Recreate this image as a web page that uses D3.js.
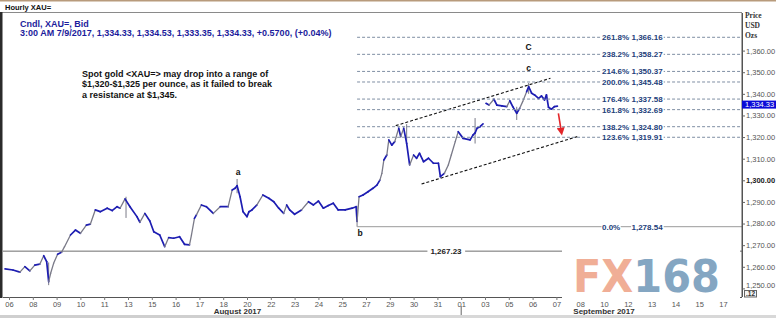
<!DOCTYPE html>
<html><head><meta charset="utf-8">
<script src="https://cdn.jsdelivr.net/npm/d3@7"></script>
<style>
html,body{margin:0;padding:0;background:#fff;}
svg{display:block;font-family:"Liberation Sans",Arial,sans-serif;}
</style></head>
<body>
<svg id="c" width="776" height="318"></svg>
<script>
// ---------- data ----------
// hours since the start of the "06 Aug" session slot (24 trading hours per slot)
const times = [
 -4, 4, 11, 16, 21, 26, 31, 35, 38, 40,
 42, 45, 49, 53, 56, 62, 67, 72, 78, 82,
 87, 92, 99, 104, 109, 112, 117, 122, 129, 132,
 137, 142, 146, 152, 157, 161, 166, 172, 177, 182,
 184, 187, 189, 194, 199, 206, 213, 221, 225, 228,
 230, 233, 236, 240, 242, 245, 250, 256, 262, 267,
 272, 277, 280, 283, 288, 295, 302, 307, 312, 317,
 322, 327, 332, 339, 346, 350, 351, 353, 357, 362,
 367, 371, 374, 376, 378, 381, 383, 386, 389, 393,
 395, 398, 401, 404, 408, 411, 414, 418, 423, 428,
 433, 435, 439, 443, 446, 450, 453, 458, 465, 468,
 470, 472, 475, 478, 481, 484, 489, 492, 497, 502,
 505, 508, 512, 515, 518, 522, 524, 527, 530, 534,
 537, 540, 542, 544, 547, 550, 553];
const closes = [
 1259.0, 1258.5, 1257.5, 1260.1, 1258.1, 1260.8, 1261.2, 1265.1, 1262.4, 1253.1,
 1257.0, 1261.6, 1265.8, 1266.7, 1269.3, 1274.7, 1277.0, 1275.5, 1279.3, 1279.7,
 1286.3, 1285.5, 1287.1, 1286.0, 1287.8, 1287.1, 1291.4, 1287.8, 1283.2, 1280.6,
 1284.7, 1281.2, 1276.2, 1274.7, 1269.3, 1273.5, 1273.2, 1273.9, 1270.4, 1270.1,
 1274.7, 1282.4, 1284.0, 1288.6, 1287.8, 1284.7, 1287.8, 1287.8, 1295.5, 1296.3,
 1297.5, 1292.4, 1285.5, 1283.2, 1285.5, 1286.3, 1288.6, 1293.2, 1291.7, 1290.1,
 1287.1, 1284.7, 1288.6, 1286.3, 1284.3, 1286.3, 1290.1, 1288.6, 1290.4, 1287.1,
 1288.3, 1289.4, 1286.3, 1286.3, 1287.1, 1287.8, 1281.0, 1292.4, 1293.2, 1294.7,
 1296.3, 1297.8, 1300.1, 1303.2, 1309.4, 1311.7, 1318.7, 1316.3, 1317.9, 1324.1,
 1320.2, 1324.1, 1317.1, 1307.1, 1311.7, 1310.2, 1312.5, 1308.6, 1310.2, 1307.9,
 1307.9, 1301.7, 1303.2, 1307.1, 1311.7, 1317.9, 1322.5, 1319.4, 1318.7, 1321.0,
 1321.9, 1324.1, 1324.8, 1326.1, 1335.6, 1334.8, 1337.5, 1334.8, 1334.4, 1334.1,
 1336.8, 1334.1, 1331.0, 1333.3, 1336.4, 1341.0, 1343.3, 1340.3, 1339.5, 1337.9,
 1339.0, 1337.2, 1339.5, 1333.8, 1332.9, 1334.1, 1334.33];
// weekend gap (no line drawn across it)
const gapHours = [480];
// wicks (spikes) seen on the chart
const wickTimes = [40, 118, 230, 351, 401, 470, 512, 524];
const wickHighs = [1262.0, 1292.4, 1300.6, 1288.0, 1326.0, 1328.8, 1334.0, 1345.0];
const wickLows  = [1251.5, 1282.6, 1294.0, 1278.54, 1318.0, 1317.0, 1327.9, 1340.0];

const xTickLabels = ["06","08","09","10","11","13","15","16","17","18","20","22","23","24","25","27","29","30","31","01","03","05","06","07","08","10","12","13","14","15","17"];
const monthLabels = ["August 2017", "September 2017"];
const monthSlots = [9.6, 25];
const yTicks = [1250,1260,1270,1280,1290,1300,1310,1320,1330,1340,1350,1360];

const fibPct = ["261.8%","238.2%","214.6%","200.0%","176.4%","161.8%","138.2%","123.6%","0.0%"];
const fibVal = [1366.16,1358.27,1350.37,1345.48,1337.58,1332.69,1324.80,1319.91,1278.54];
const fibStartHour = 351;

const supportValue = 1267.23;
const lastPrice = 1334.33;

const channelUpperT = [390, 546], channelUpperV = [1325.3, 1347.2];
const channelLowerT = [416, 573], channelLowerV = [1298.3, 1320.2];
const arrowT = [554, 557], arrowV = [1331.0, 1322.5];

const waveLabels = ["a","b","C","c"];
const waveT = [231, 354, 524, 524];
const waveV = [1303.9, 1275.7, 1361.7, 1352.0];

const titleText = "Hourly XAU=";
const infoLines = ["Cndl, XAU=, Bid", "3:00 AM 7/9/2017, 1,334.33, 1,334.53, 1,333.35, 1,334.33, +0.5700, (+0.04%)"];
const noteLines = ["Spot gold <XAU=> may drop into a range of", "$1,320-$1,325 per ounce, as it failed to break", "a resistance at $1,345."];
const unitLines = ["Price","USD","Ozs"];

// ---------- layout ----------
const svg = d3.select("#c");
const L = 3, T = 13, R = 742, B = 297;
const x = d3.scaleLinear().domain([0, 720]).range([9, 723]);
const y = d3.scaleLinear().domain([1250, 1360]).range([288.4, 50.6]);

svg.append("rect").attr("width",776).attr("height",318).attr("fill","#fff");
svg.append("rect").attr("x",0).attr("y",0).attr("width",776).attr("height",1.5).attr("fill","#b89b7c");
svg.append("text").attr("x",5).attr("y",9.5).attr("font-size",7.5).attr("font-weight","bold").attr("fill","#111").text(titleText);
// frame
svg.append("line").attr("x1",0).attr("x2",R).attr("y1",12.5).attr("y2",12.5).attr("stroke","#8a8a8a");
svg.append("rect").attr("x",0).attr("y",12).attr("width",2.5).attr("height",B-12+1).attr("fill","#2b2b2b");

const defs = svg.append("defs");
defs.append("clipPath").attr("id","pc").append("rect")
  .attr("x",L).attr("y",T).attr("width",R-L).attr("height",B-T);
const plot = svg.append("g").attr("clip-path","url(#pc)");

// info text
infoLines.forEach((s,i)=>{
  svg.append("text").attr("x",20).attr("y",27+i*9).attr("font-size",9).attr("font-weight","bold")
    .attr("fill","#1c1c9c").text(s);
});
noteLines.forEach((s,i)=>{
  svg.append("text").attr("x",82).attr("y",76.5+i*10.5).attr("font-size",9).attr("font-weight","bold")
    .attr("fill","#111").text(s);
});

// support line 1,267.23
plot.append("line").attr("x1",L).attr("x2",R).attr("y1",y(supportValue)).attr("y2",y(supportValue))
  .attr("stroke","#6e6e6e").attr("stroke-width",1);
const supT = svg.append("text").attr("x",446).attr("y",y(supportValue)+3).attr("text-anchor","middle")
  .attr("font-size",8).attr("font-weight","bold").attr("fill","#222").text(d3.format(",.2f")(supportValue));
{ const bb = supT.node().getBBox();
  svg.insert("rect", () => supT.node()).attr("x",bb.x-3).attr("y",bb.y).attr("width",bb.width+6).attr("height",bb.height).attr("fill","#fff"); }

// fib lines
const fibG = svg.append("g");
fibVal.forEach((v,i)=>{
  const isZero = fibPct[i] === "0.0%";
  fibG.append("line").attr("x1",x(fibStartHour)).attr("x2",R).attr("y1",y(v)).attr("y2",y(v))
    .attr("stroke", isZero ? "#9a9a9a" : "#7f8ea3").attr("stroke-width",1)
    .attr("stroke-dasharray", isZero ? null : "3,2");
  const parts = [[602, fibPct[i]], [631.5, d3.format(",.2f")(v)]];
  parts.forEach(([px,s])=>{
    const t = fibG.append("text").attr("x",px).attr("y",y(v)+3).attr("font-size",8).attr("font-weight","bold")
      .attr("fill","#23407a").text(s);
    const bb = t.node().getBBox();
    fibG.insert("rect", () => t.node()).attr("x",bb.x-0.5).attr("y",y(v)-3).attr("width",bb.width+1).attr("height",6).attr("fill","#fff");
  });
});

// price series
const blue = "#1d1db2", gray = "#7a7a88";
wickTimes.forEach((t,i)=>{
  plot.append("line").attr("x1",x(t)).attr("x2",x(t)).attr("y1",y(wickHighs[i])).attr("y2",y(wickLows[i]))
    .attr("stroke",gray).attr("stroke-width",1);
});
for (let i=1;i<Math.min(times.length, closes.length);i++){
  if (gapHours.some(g => times[i-1] < g && times[i] >= g)) continue;
  const steepUp = closes[i] - closes[i-1] > 2.5;
  plot.append("line").attr("x1",x(times[i-1])).attr("y1",y(closes[i-1]))
    .attr("x2",x(times[i])).attr("y2",y(closes[i]))
    .attr("stroke", steepUp ? gray : blue).attr("stroke-width", steepUp ? 1.3 : 1.7)
    .attr("stroke-linecap","round");
}

// channel
[[channelUpperT,channelUpperV],[channelLowerT,channelLowerV]].forEach(([ts,vs])=>{
  plot.append("line").attr("x1",x(ts[0])).attr("y1",y(vs[0])).attr("x2",x(ts[1])).attr("y2",y(vs[1]))
    .attr("stroke","#111").attr("stroke-width",1.1).attr("stroke-dasharray","3,2");
});
// red arrow
defs.append("marker").attr("id","ah").attr("viewBox","0 0 10 10").attr("refX",5).attr("refY",5)
  .attr("markerWidth",5).attr("markerHeight",5).attr("orient","auto")
  .append("path").attr("d","M0,0L10,5L0,10z").attr("fill","#e3262a");
plot.append("line").attr("x1",x(arrowT[0])).attr("y1",y(arrowV[0])).attr("x2",x(arrowT[1])).attr("y2",y(arrowV[1]))
  .attr("stroke","#e3262a").attr("stroke-width",1.6).attr("marker-end","url(#ah)");

// wave labels
waveLabels.forEach((s,i)=>{
  svg.append("text").attr("x",x(waveT[i])).attr("y",y(waveV[i])+3).attr("text-anchor","middle")
    .attr("font-size",8.5).attr("font-weight","bold").attr("fill","#111").text(s);
});

// right axis
const yAx = svg.append("g").attr("transform",`translate(${R},0)`)
  .call(d3.axisRight(y).tickValues(yTicks).tickFormat(d3.format(",.2f")).tickSize(3));
yAx.select(".domain").attr("stroke","#555").attr("d",`M0.5,${T}V${B}`);
yAx.selectAll(".tick line").attr("stroke","#666");
yAx.selectAll(".tick text").attr("x",4).attr("font-size",7.5)
  .attr("font-family","Liberation Sans, Arial, sans-serif")
  .attr("transform", d => d === 1250 ? "translate(0,-3.5)" : null)
  .attr("font-weight", d => d === 1300 ? "bold" : "normal").attr("fill", d => d===1300 ? "#222" : "#555");
svg.append("line").attr("x1",R).attr("x2",R).attr("y1",T).attr("y2",B).attr("stroke","#555");
unitLines.forEach((s,i)=>{
  svg.append("text").attr("x",745).attr("y",18+i*10).attr("font-size",7.5).attr("fill","#333")
    .attr("font-family","Liberation Serif, serif").attr("font-weight","bold").text(s);
});
// last price marker
svg.append("rect").attr("x",R).attr("y",y(lastPrice)-5.5).attr("width",776-R).attr("height",8).attr("fill","#0a0ad8");
svg.append("text").attr("x",745).attr("y",y(lastPrice)+1.2).attr("font-size",7.5).attr("fill","#fff")
  .text(d3.format(",.2f")(lastPrice));

// bottom axis
const tickHours = xTickLabels.map((d,i)=>i*24);
const xAx = svg.append("g").attr("transform",`translate(0,${B})`)
  .call(d3.axisBottom(x).tickValues(tickHours).tickFormat((d,i)=>xTickLabels[i]).tickSize(3));
xAx.select(".domain").attr("d",`M${L},0.5H${R}`).attr("stroke","#555");
xAx.selectAll(".tick line").attr("stroke","#777");
xAx.selectAll(".tick text").attr("y",5).attr("font-size",7.5).attr("fill","#555")
  .attr("font-family","Liberation Sans, Arial, sans-serif");
monthLabels.forEach((s,i)=>{
  svg.append("text").attr("x",x(monthSlots[i]*24)).attr("y",314).attr("text-anchor","middle")
    .attr("font-size",8).attr("font-weight","bold").attr("fill","#333").text(s);
});
svg.append("line").attr("x1",x(19*24)).attr("x2",x(19*24)).attr("y1",306).attr("y2",315).attr("stroke","#666");
svg.append("rect").attr("x",0).attr("y",315).attr("width",776).attr("height",3).attr("fill","#d8d8d8");
svg.append("rect").attr("x",0).attr("y",315).attr("width",410).attr("height",3).attr("fill","#cfcfcf");

// watermark
svg.append("rect").attr("x",562).attr("y",242).attr("width",178).attr("height",60).attr("fill","#fff");
const wm = svg.append("text").attr("x",573).attr("y",292).attr("font-size",45).attr("font-weight","bold")
  .attr("textLength",147).attr("lengthAdjust","spacingAndGlyphs").attr("font-family","DejaVu Sans, sans-serif");
wm.append("tspan").attr("fill","#f0ae96").text("FX");
wm.append("tspan").attr("fill","#84a6c2").text("168");

// corner box
svg.append("rect").attr("x",744.5).attr("y",290.5).attr("width",12).attr("height",6.5).attr("fill","#f4f4f4").attr("stroke","#666");
svg.append("text").attr("x",746).attr("y",296).attr("font-size",6.5).attr("font-weight","bold").attr("fill","#333").text(".12");
</script>
</body></html>
